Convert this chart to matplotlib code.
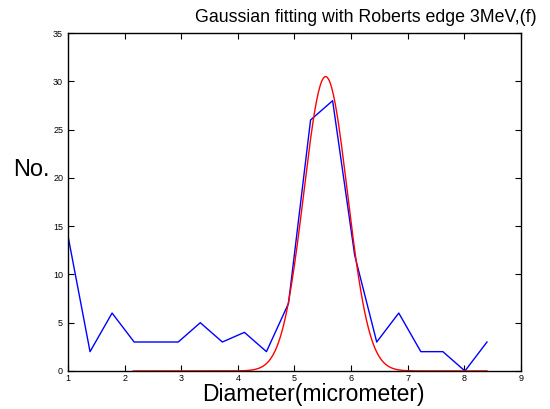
import numpy as np
import matplotlib
matplotlib.use('Agg')
from matplotlib import pyplot as plt

plt.rcParams['font.family'] = ['Liberation Sans', 'DejaVu Sans']

# histogram of diameters (bin centres) and counts
diameter = np.linspace(1.0, 8.4, 20)
counts = [14, 2, 6, 3, 3, 3, 5, 3, 4, 2, 7, 26, 28, 12, 3, 6, 2, 2, 0, 3]

# gaussian fit parameters
amp = 30.5
mu = 5.55
sigma = 0.385

xfit = np.linspace(2.15, 8.4, 400)
yfit = amp * np.exp(-(xfit - mu) ** 2 / (2 * sigma ** 2))

fig = plt.figure(figsize=(5.5, 4.09), dpi=100)
ax = fig.add_axes([0.1236, 0.093, 0.8236, 0.826])

ax.plot(diameter, counts, color='blue', lw=1)
ax.plot(xfit, yfit, color='red', lw=1)

ax.set_xlim(1, 9)
ax.set_ylim(0, 35)
ax.set_xticks(range(1, 10))
ax.set_yticks(range(0, 36, 5))
ax.tick_params(direction='in', top=True, right=True, labelsize=6.5, length=4, width=0.8)
ax.tick_params(axis='x', pad=2.5)
for s in ax.spines.values():
    s.set_linewidth(1)

fig.text(0.666, 0.945, 'Gaussian fitting with Roberts edge 3MeV,(f)', ha='center', fontsize=12.8)
fig.text(0.5695, 0.02, 'Diameter(micrometer)', ha='center', va='baseline', fontsize=16.5)
fig.text(0.023, 0.570, 'No.', ha='left', va='baseline', fontsize=17)

fig.savefig('out.png', dpi=100)
